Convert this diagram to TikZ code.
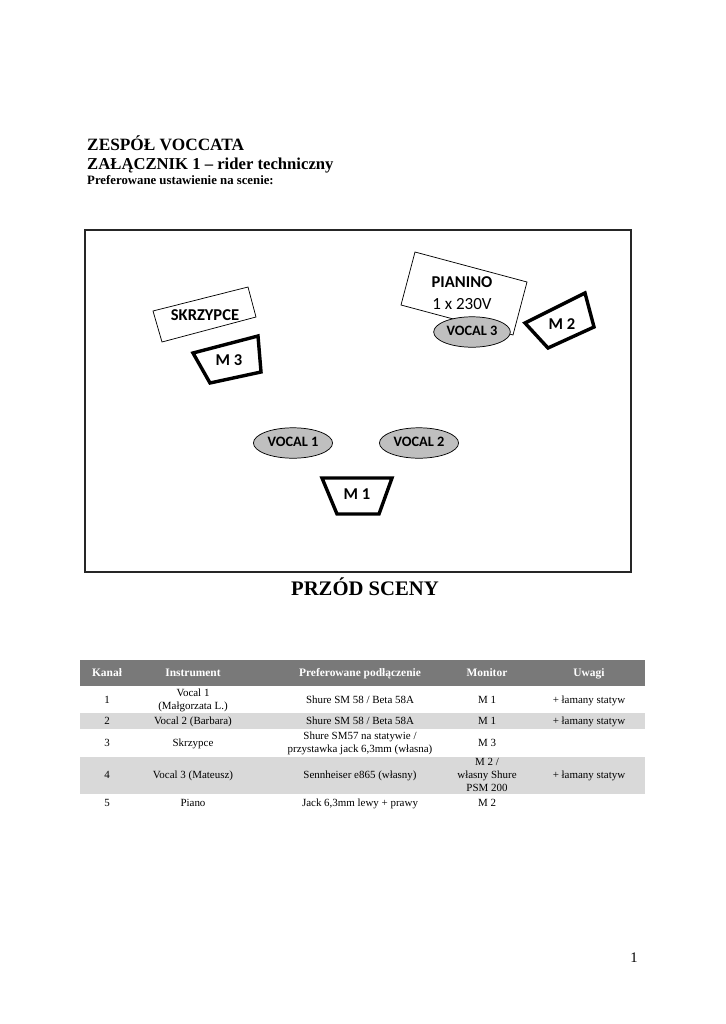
\documentclass[tikz,border=0pt]{standalone}
\usepackage{fontspec}
\setmainfont{Liberation Serif}
\newfontfamily\stagefont{Carlito}
\usetikzlibrary{shapes.geometric}

\begin{document}
\begin{tikzpicture}[
        x=0.822pt,
        y=-0.822pt,
        every node/.style={inner sep=0pt},
        stage frame/.style={draw=black!85,line width=1.3pt},
        item box/.style={draw=black,line width=0.6pt,fill=white},
        monitor box/.style={draw=black,line width=2.8pt,line join=miter,fill=white},
        vocal spot/.style={ellipse,draw=black,line width=0.6pt,fill=gray!50,minimum width=65pt,minimum height=25pt,text height=1.6ex,text depth=0.3ex,font=\stagefont\bfseries\fontsize{11.8}{13}\selectfont},
        stage label/.style={anchor=base,font=\stagefont\bfseries\fontsize{13.6}{15}\selectfont},
        head cell/.style={font=\bfseries\fontsize{9.4}{11}\selectfont,text=white,text height=1.5ex,text depth=0.4ex},
        body cell/.style={font=\fontsize{9}{10.6}\selectfont,align=center},
        one line/.style={text height=1.5ex,text depth=0.4ex}
    ]
        \useasboundingbox (0,0) rectangle (725,1024);

        % heading
        \node[anchor=base west,font=\bfseries\fontsize{14.2}{17}\selectfont] (title) at (87,150) {ZESPÓŁ VOCCATA};
        \node[anchor=base west,font=\bfseries\fontsize{13.7}{16}\selectfont] (subtitle) at (87,169) {ZAŁĄCZNIK 1 – rider techniczny};
        \node[anchor=base west,font=\bfseries\fontsize{10.5}{12}\selectfont] (caption) at (87,184) {Preferowane ustawienie na scenie:};

        % stage
        \draw[stage frame] (85,230) rectangle (631,572);

        \draw[item box] (153,311) -- (248,287) -- (256,317) -- (162,342) -- cycle;
        \node[stage label] (skrzypce) at (205,320) {SKRZYPCE};

        \draw[monitor box] (193,353) -- (258,336) -- (261,372) -- (210,383) -- cycle;
        \node[stage label] (m3) at (229,365) {M 3};

        \draw[item box] (415,252) -- (527,282) -- (513,335) -- (401,305) -- cycle;
        \node[stage label] (pianino) at (462,287) {PIANINO};
        \node[anchor=base,font=\stagefont\fontsize{14}{16}\selectfont] (power) at (462,309) {1 x 230V};
        \node[vocal spot,minimum width=63pt] (vocal3) at (472,332) {VOCAL 3};

        \draw[monitor box] (525,323) -- (585,293) -- (594,327) -- (548,348) -- cycle;
        \node[stage label] (m2) at (562,329) {M 2};

        \node[vocal spot] (vocal1) at (293,443) {VOCAL 1};
        \node[vocal spot] (vocal2) at (419,443) {VOCAL 2};

        \draw[monitor box] (322,478) -- (392,478) -- (379,514) -- (337,514) -- cycle;
        \node[stage label] (m1) at (357,499) {M 1};

        \node[anchor=base,font=\bfseries\fontsize{17}{20}\selectfont] (front) at (365,595) {PRZÓD SCENY};

        % table
        \fill[gray!95!black] (80,660) rectangle (645,686);
        \fill[gray!30] (80,713) rectangle (645,729);
        \fill[gray!30] (80,757) rectangle (645,794);

        \node[head cell] (hkanal) at (107,673) {Kanał};
        \node[head cell] (hinstr) at (193,673) {Instrument};
        \node[head cell] (hconn) at (360,673) {Preferowane podłączenie};
        \node[head cell] (hmon) at (487,673) {Monitor};
        \node[head cell] (huwagi) at (589,673) {Uwagi};

        \node[body cell,one line] (k1) at (107,700) {1};
        \node[body cell] (i1) at (193,700) {Vocal 1\\(Małgorzata L.)};
        \node[body cell,one line] (c1) at (360,700) {Shure SM 58 / Beta 58A};
        \node[body cell,one line] (m1row) at (487,700) {M 1};
        \node[body cell,one line] (u1) at (589,700) {+ łamany statyw};

        \node[body cell,one line] (k2) at (107,721) {2};
        \node[body cell,one line] (i2) at (193,721) {Vocal 2 (Barbara)};
        \node[body cell,one line] (c2) at (360,721) {Shure SM 58 / Beta 58A};
        \node[body cell,one line] (m2row) at (487,721) {M 1};
        \node[body cell,one line] (u2) at (589,721) {+ łamany statyw};

        \node[body cell,one line] (k3) at (107,743) {3};
        \node[body cell,one line] (i3) at (193,743) {Skrzypce};
        \node[body cell] (c3) at (360,743) {Shure SM57 na statywie /\\przystawka jack 6,3mm (własna)};
        \node[body cell,one line] (m3row) at (487,743) {M 3};

        \node[body cell,one line] (k4) at (107,775) {4};
        \node[body cell,one line] (i4) at (193,775) {Vocal 3 (Mateusz)};
        \node[body cell,one line] (c4) at (360,775) {Sennheiser e865 (własny)};
        \node[body cell] (m4row) at (487,775) {M 2 /\\własny Shure\\PSM 200};
        \node[body cell,one line] (u4) at (589,775) {+ łamany statyw};

        \node[body cell,one line] (k5) at (107,803) {5};
        \node[body cell,one line] (i5) at (193,803) {Piano};
        \node[body cell,one line] (c5) at (360,803) {Jack 6,3mm lewy + prawy};
        \node[body cell,one line] (m5row) at (487,803) {M 2};

        % page number
        \node[anchor=base,font=\fontsize{12}{14}\selectfont] (page) at (634,962) {1};
    \end{tikzpicture}
\end{document}
